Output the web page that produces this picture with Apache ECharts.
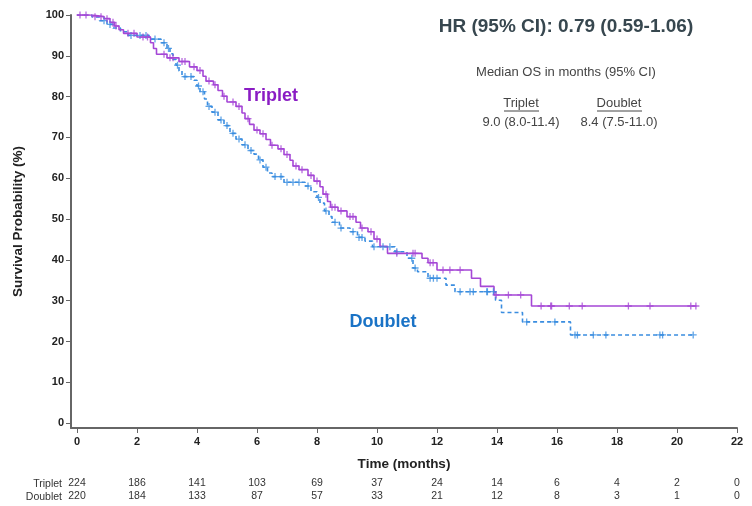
<!DOCTYPE html>
<html><head><meta charset="utf-8">
<script src="https://cdn.jsdelivr.net/npm/echarts@6/dist/echarts.min.js"></script>
<style>html,body{margin:0;padding:0;background:#fff}#c{width:752px;height:506px}</style>
</head><body><div id="c"></div>
<script>
// ---- data ----
const xTicks = [0,2,4,6,8,10,12,14,16,18,20,22];
const yTicks = [0,10,20,30,40,50,60,70,80,90,100];
const riskTriplet = [224,186,141,103,69,37,24,14,6,4,2,0];
const riskDoublet = [220,184,133,87,57,33,21,12,8,3,1,0];

// Kaplan-Meier steps: [time (months), survival % after the event]
const tripletSteps = [[0,100],[0.5,99.6],[0.9,99.1],[1.1,98.2],[1.25,97.3],[1.4,96.4],[1.55,95.5],[2.0,94.6],[2.45,93.2],[2.55,91.8],[2.65,90.4],[3.0,89.5],[3.4,88.6],[3.75,87.3],[4.0,86.4],[4.2,85.0],[4.3,83.8],[4.55,82.9],[4.7,81.5],[4.85,80.1],[5.0,78.7],[5.3,77.6],[5.5,76.0],[5.6,74.6],[5.75,73.2],[5.9,71.8],[6.1,70.9],[6.3,69.5],[6.45,68.1],[6.7,67.2],[6.9,65.8],[7.1,64.4],[7.2,63.0],[7.4,62.1],[7.7,60.7],[7.9,59.3],[8.1,57.9],[8.2,56.1],[8.35,54.3],[8.45,52.9],[8.7,52.0],[9.0,50.6],[9.3,49.2],[9.45,47.8],[9.7,46.9],[9.9,45.1],[10.1,43.3],[10.35,41.6],[11.5,40.4],[11.7,39.3],[12.0,37.5],[13.15,35.5],[13.45,33.5],[13.9,31.4],[15.15,28.7],[20.65,28.7]];
const doubletSteps = [[0,100],[0.5,99.5],[0.75,98.6],[1.0,97.7],[1.2,96.8],[1.45,95.9],[1.7,95.0],[2.4,94.1],[2.8,93.2],[3.0,91.8],[3.1,90.5],[3.2,89.1],[3.3,87.7],[3.4,86.3],[3.5,84.9],[3.9,84.0],[4.0,82.6],[4.1,81.2],[4.25,79.4],[4.35,77.6],[4.5,76.2],[4.7,74.3],[4.9,72.9],[5.1,71.0],[5.3,69.6],[5.5,68.2],[5.7,66.8],[5.9,65.9],[6.05,64.5],[6.2,62.7],[6.35,61.3],[6.5,60.4],[6.9,59.0],[7.6,58.1],[7.8,56.7],[8.0,55.3],[8.1,53.9],[8.25,52.0],[8.4,50.6],[8.5,49.2],[8.75,47.8],[9.1,46.9],[9.35,45.5],[9.6,44.6],[9.85,43.2],[10.6,42.0],[11.0,40.4],[11.2,38.0],[11.35,37.1],[11.7,35.5],[12.3,33.8],[12.6,32.2],[13.95,30.1],[14.15,27.1],[14.85,24.8],[16.45,21.6],[20.55,21.6]];

// censoring times (months)
const tripletCensor = [0.1,0.3,0.6,0.8,1.0,1.2,1.3,1.7,1.9,2.2,2.35,2.9,3.1,3.2,3.5,3.6,3.9,4.1,4.4,4.6,4.9,5.2,5.4,5.7,6.0,6.2,6.5,6.8,7.0,7.3,7.5,7.8,8.0,8.3,8.5,8.6,8.8,9.1,9.2,9.5,9.8,10.0,10.66,11.2,11.27,11.77,11.87,12.2,12.43,12.77,13.97,14.38,14.79,15.47,15.79,15.82,16.41,16.84,18.38,19.1,20.46,20.63];
const doubletCensor = [0.9,1.1,1.8,2.1,2.3,2.6,2.9,3.05,3.35,3.6,3.8,4.05,4.2,4.4,4.6,4.8,5.0,5.2,5.4,5.6,5.8,6.1,6.3,6.6,6.8,7.0,7.2,7.4,7.7,8.05,8.3,8.6,8.8,9.2,9.4,9.5,9.9,10.2,10.43,10.66,11.16,11.27,11.77,11.88,12.0,12.77,13.1,13.21,13.66,13.68,13.88,14.99,15.93,16.6,16.68,17.21,17.63,19.43,19.52,20.54];

const hrText = 'HR (95% CI): 0.79 (0.59-1.06)';
const medianTitle = 'Median OS in months (95% CI)';
const medianTriplet = '9.0 (8.0-11.4)';
const medianDoublet = '8.4 (7.5-11.0)';

// ---- helpers ----
function survAt(steps, t){ let s = steps[0][1]; for (const p of steps){ if (p[0] <= t) s = p[1]; else break; } return s; }
const cTrip = tripletCensor.map(t => [t, survAt(tripletSteps, t)]);
const cDoub = doubletCensor.map(t => [t, survAt(doubletSteps, t)]);

const PURPLE_LINE = '#a547d6', PURPLE_TXT = '#8a1cc4';
const BLUE_LINE = '#3a8de0', BLUE_TXT = '#1a73c6';
const AX = '#666';
const plus = 'path://M0,-5L0,5M-5,0L5,0';
const FONT = 'Liberation Sans, Arial, sans-serif';

const chart = echarts.init(document.getElementById('c'));
const xBase = {type:'value', min:-0.2, max:22, gridIndex:0, splitLine:{show:false}};
const riskAxis = (arr, off) => Object.assign({}, xBase, {
  position:'bottom', offset:off,
  axisLine:{show:false, onZero:false}, axisTick:{show:false},
  axisLabel:{customValues:xTicks, margin:0, color:'#333', fontSize:10.5, fontFamily:FONT,
    formatter: v => { const i = xTicks.indexOf(v); return i >= 0 ? String(arr[i]) : ''; }}
});

chart.setOption({
  animation:false,
  backgroundColor:'#fff',
  grid:{left:71, right:15, top:15, bottom:78, containLabel:false},
  xAxis:[
    Object.assign({}, xBase, {
      name:'Time (months)', nameLocation:'middle', nameGap:29,
      nameTextStyle:{fontWeight:'bold', fontSize:13.5, color:'#222', fontFamily:FONT},
      axisLine:{show:true, onZero:false, lineStyle:{color:AX, width:2}},
      axisTick:{show:true, customValues:xTicks, length:5, lineStyle:{color:AX, width:1}},
      axisLabel:{customValues:xTicks, margin:8, fontWeight:'bold', fontSize:11, color:'#222', fontFamily:FONT}
    }),
    riskAxis(riskTriplet, 50),
    riskAxis(riskDoublet, 63)
  ],
  yAxis:{type:'value', min:-1.2, max:100,
    name:'Survival Probability (%)', nameLocation:'middle', nameGap:46, nameRotate:90,
    nameTextStyle:{fontWeight:'bold', fontSize:13.5, color:'#222', fontFamily:FONT},
    splitLine:{show:false},
    axisLine:{show:true, onZero:false, lineStyle:{color:AX, width:2}},
    axisTick:{show:true, customValues:yTicks, length:5, lineStyle:{color:AX, width:1}},
    axisLabel:{customValues:yTicks, margin:7, fontWeight:'bold', fontSize:11, color:'#222', fontFamily:FONT}
  },
  series:[
    {name:'Doublet', type:'line', step:'end', data:doubletSteps, showSymbol:false, z:2,
      lineStyle:{color:BLUE_LINE, width:1.6, type:[4,3]}},
    {name:'Triplet', type:'line', step:'end', data:tripletSteps, showSymbol:false, z:3,
      lineStyle:{color:PURPLE_LINE, width:1.6}},
    {type:'scatter', data:cDoub, symbol:plus, symbolSize:7, z:4,
      itemStyle:{color:'none', borderColor:BLUE_LINE, borderWidth:1.3}},
    {type:'scatter', data:cTrip, symbol:plus, symbolSize:7, z:5,
      itemStyle:{color:'none', borderColor:PURPLE_LINE, borderWidth:1.3}}
  ],
  graphic:[
    {type:'text', x:566, y:27, style:{text:hrText, align:'center', verticalAlign:'middle', font:'bold 19px "Liberation Sans", Arial, sans-serif', fill:'#37474f'}},
    {type:'text', x:566, y:72, style:{text:medianTitle, align:'center', verticalAlign:'middle', font:'13px "Liberation Sans", Arial, sans-serif', fill:'#444'}},
    {type:'text', x:521, y:103, style:{text:'Triplet', align:'center', verticalAlign:'middle', font:'13px "Liberation Sans", Arial, sans-serif', fill:'#444'}},
    {type:'text', x:619, y:103, style:{text:'Doublet', align:'center', verticalAlign:'middle', font:'13px "Liberation Sans", Arial, sans-serif', fill:'#444'}},
    {type:'line', shape:{x1:504, y1:111, x2:539, y2:111}, style:{stroke:'#444', lineWidth:1}},
    {type:'line', shape:{x1:597, y1:111, x2:642, y2:111}, style:{stroke:'#444', lineWidth:1}},
    {type:'text', x:521, y:122, style:{text:medianTriplet, align:'center', verticalAlign:'middle', font:'13px "Liberation Sans", Arial, sans-serif', fill:'#444'}},
    {type:'text', x:619, y:122, style:{text:medianDoublet, align:'center', verticalAlign:'middle', font:'13px "Liberation Sans", Arial, sans-serif', fill:'#444'}},
    {type:'text', x:271, y:96, style:{text:'Triplet', align:'center', verticalAlign:'middle', font:'bold 18px "Liberation Sans", Arial, sans-serif', fill:PURPLE_TXT}},
    {type:'text', x:383, y:322, style:{text:'Doublet', align:'center', verticalAlign:'middle', font:'bold 18px "Liberation Sans", Arial, sans-serif', fill:BLUE_TXT}},
    {type:'text', x:62, y:484, style:{text:'Triplet', align:'right', verticalAlign:'middle', font:'10.5px "Liberation Sans", Arial, sans-serif', fill:'#333'}},
    {type:'text', x:62, y:497, style:{text:'Doublet', align:'right', verticalAlign:'middle', font:'10.5px "Liberation Sans", Arial, sans-serif', fill:'#333'}}
  ]
});
</script></body></html>
